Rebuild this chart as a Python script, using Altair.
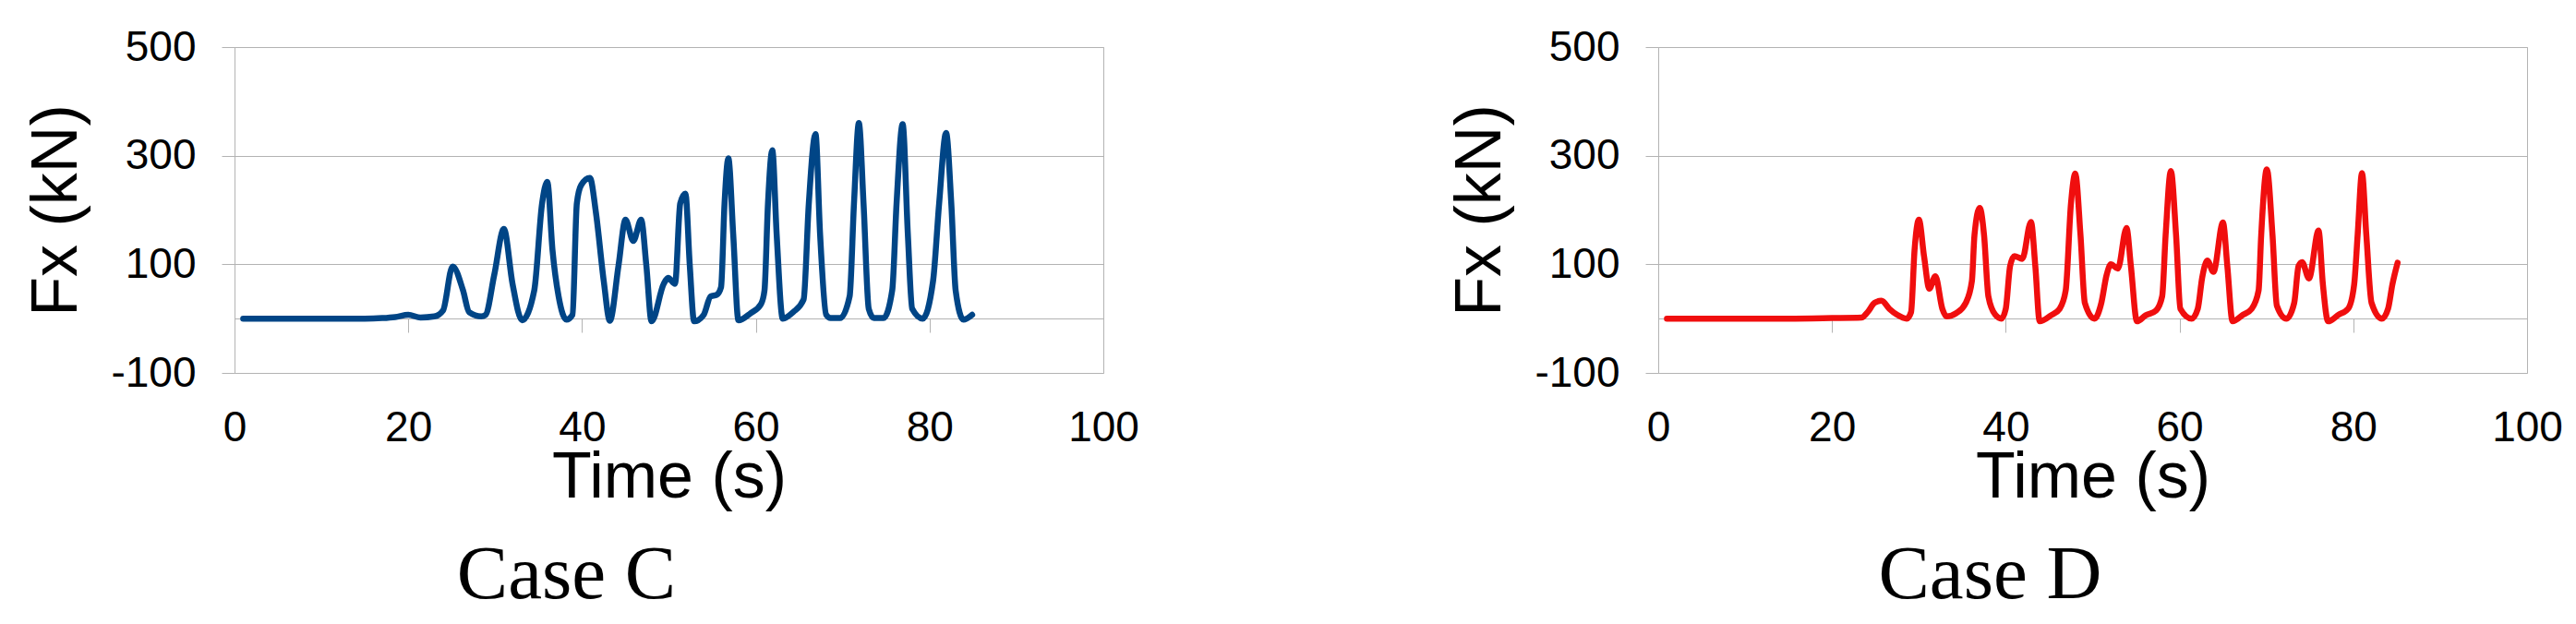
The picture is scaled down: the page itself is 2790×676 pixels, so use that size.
import altair as alt
import pandas as pd

# ---- Case C (blue) ----
time_c = [1, 5, 10, 15, 17, 18.5, 20, 21.4, 23, 24, 25.1, 26.3, 27, 28.4, 28.9, 29.9, 31.0, 32.0, 33.1,
          34.5, 35.4, 36.0, 36.6, 37.3, 38.2, 38.9, 39.4, 39.9, 40.9, 41.6, 42.5, 43.2, 44.2, 45.0, 45.9,
          46.8, 47.4, 48.0, 49.4, 49.9, 50.7, 51.3, 51.9, 52.4, 52.9, 54.0, 54.8, 55.5, 56.0, 56.4, 56.84,
          57.4, 58.0, 59.4, 60.6, 61.0, 61.4, 61.9, 62.4, 63.1, 64.3, 65.5, 66.1, 66.87, 67.4, 68.1, 68.6,
          69.7, 70.8, 71.3, 71.86, 72.4, 73.0, 73.6, 74.7, 75.7, 76.2, 76.9, 77.5, 78.0, 79.2, 80.4, 81.1,
          81.9, 82.5, 83.0, 83.9, 84.9]
force_c = [0, 0, 0, 0, 1, 3, 7, 2, 4, 15, 96, 52, 12, 4, 7, 81, 165, 64, -3,
           52, 212, 252, 126, 41, -2, 7, 212, 246, 259, 195, 69, -4, 98, 182, 143,
           182, 98, -5, 64, 75, 64, 212, 230, 98, -5, 7, 41, 44, 58, 212, 295,
           155, -3, 10, 27, 52, 212, 310, 155, 0, 12, 35, 212, 340, 155, 7, 1,
           1, 41, 212, 360, 212, 18, 1, 1, 52, 212, 358, 155, 18, 0, 69, 212,
           342, 212, 52, -2, 7]

# ---- Case D (red) ----
time_d = [1, 5, 10, 15, 20, 23.4, 24.1, 24.9, 25.7, 26.6, 27.5, 28.6, 29.1, 29.5, 30.0, 30.6, 31.2, 31.9,
          32.7, 33.2, 34.3, 35.4, 36.1, 36.4, 37.0, 37.5, 38.0, 38.8, 39.5, 40.0, 40.5, 41.0, 41.9, 42.9,
          43.4, 43.9, 45.2, 46.2, 46.9, 47.5, 48.0, 48.6, 49.1, 50.2, 51.0, 51.6, 52.1, 52.9, 53.9, 54.4,
          55.1, 56.1, 57.3, 58.0, 58.4, 59.0, 59.6, 60.1, 61.4, 62.1, 62.6, 63.2, 63.9, 65.0, 65.5, 66.1,
          67.3, 68.3, 69.1, 69.4, 70.05, 70.7, 71.2, 72.3, 73.2, 73.7, 74.1, 74.9, 76.0, 76.5, 77.1, 78.3,
          79.4, 80.1, 80.5, 81.0, 81.5, 82.1, 83.3, 84.0, 84.5, 85.1]
force_d = [0, 0, 0, 0, 1, 2, 12, 29, 33, 18, 7, 0, 12, 126, 182, 114, 55, 78,
           18, 4, 10, 29, 69, 154, 204, 154, 41, 7, 0, 18, 97, 115, 110, 178,
           97, -5, 6, 18, 52, 211, 267, 154, 29, 0, 29, 80, 100, 92, 167, 97,
           -5, 6, 15, 41, 154, 272, 154, 18, 0, 18, 75, 107, 86, 177, 97, -5,
           7, 18, 52, 154, 275, 154, 24, 0, 29, 97, 104, 74, 162, 63, -5, 7,
           18, 63, 154, 268, 154, 29, 0, 18, 63, 103]

x_ticks = [0, 20, 40, 60, 80, 100]
x_inner_ticks = [20, 40, 60, 80]
y_ticks = [-100, 100, 300, 500]

GRID = "#b3b3b3"
SANS = "Liberation Sans"
SERIF = "Liberation Serif"


def panel(times, forces, color, caption):
    df = pd.DataFrame({"t": times, "f": forces})
    base = alt.Chart(df)
    xscale = alt.Scale(domain=[0, 100], nice=False, zero=False)
    yscale = alt.Scale(domain=[-100, 500], nice=False)

    y_enc = alt.Y("f:Q", scale=yscale,
                  axis=alt.Axis(values=y_ticks, title="Fx (kN)", grid=True, gridColor=GRID,
                                gridWidth=1, ticks=True, tickSize=14, tickColor=GRID,
                                domain=False, labelFont=SANS, labelFontSize=46,
                                labelColor="black", labelPadding=28, labelFlush=False,
                                labelOverlap=False, labelExpr="'' + datum.value",
                                titleFont=SANS, titleFontSize=70, titleFontWeight="normal",
                                titleColor="black", titlePadding=22))

    zero_axis = base.mark_line(opacity=0).encode(
        x=alt.X("t:Q", scale=xscale,
                axis=alt.Axis(values=x_inner_ticks, orient="bottom", offset=-59,
                              labels=False, title=None, grid=False, ticks=True,
                              tickSize=15, tickColor=GRID, tickWidth=1,
                              domain=True, domainColor=GRID, domainWidth=1)),
        y=y_enc,
    )

    line = base.mark_line(color=color, strokeWidth=6.5, interpolate="monotone",
                          strokeCap="round", strokeJoin="round").encode(
        x=alt.X("t:Q", scale=xscale,
                axis=alt.Axis(values=x_ticks, orient="bottom", title="Time (s)", grid=False,
                              ticks=False, tickSize=0, domain=False, labelFont=SANS,
                              labelFontSize=46, labelColor="black", labelPadding=37,
                              labelFlush=False, labelOverlap=False, titleFont=SANS,
                              titleFontSize=70, titleFontWeight="normal", titleColor="black",
                              titlePadding=-3)),
        y=y_enc,
    )

    return alt.layer(zero_axis, line).resolve_axis(x="independent").properties(
        width=941, height=353,
        title=alt.TitleParams(caption, orient="bottom", anchor="middle", font=SERIF,
                              fontSize=83, fontWeight="normal", color="black",
                              dx=-111, offset=30),
    )


left = panel(time_c, force_c, "#004586", "Case C")
right = panel(time_d, force_d, "#f00e0e", "Case D")

chart = alt.hconcat(left, right, spacing=601, bounds="flush").properties(
    padding={"left": 18, "top": 19, "right": 0, "bottom": 0},
    background="white",
).configure_view(stroke=GRID, strokeWidth=1)

chart.save("out.html", embed_options={"renderer": "svg", "actions": False})
